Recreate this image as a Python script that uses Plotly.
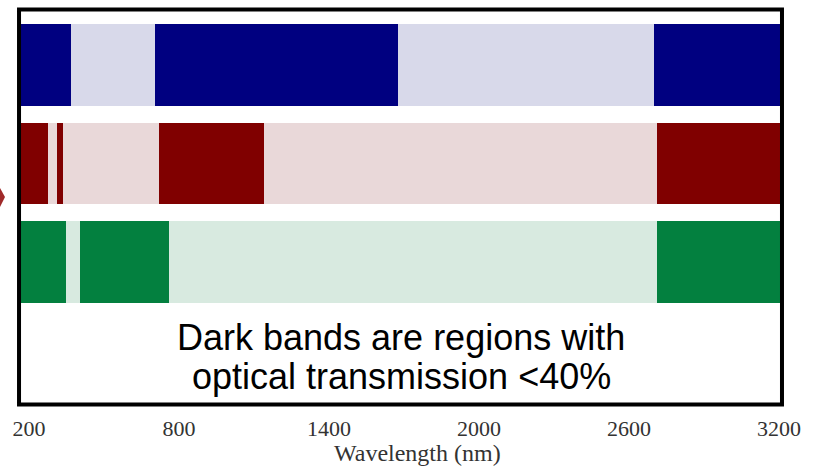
import plotly.graph_objects as go

# ---- data (wavelength, nm) ----
rows = ["Row 1", "Row 2", "Row 3"]
row1_edges = [168, 368, 704, 1676, 2700, 3208]
row2_edges = [168, 276, 312, 336, 720, 1140, 2712, 3208]
row3_edges = [168, 348, 404, 760, 2712, 3208]
dark_colors = ["#000080", "#800000", "#03803f"]
light_colors = ["#d8d9ea", "#e9d8d9", "#d8eae0"]
tick_values = [200, 800, 1400, 2000, 2600, 3200]
tick_labels = ["200", "800", "1400", "2000", "2600", "3200"]
note_lines = ["Dark bands are regions with", "optical transmission <40%"]
x_title = "Wavelength (nm)"

fig = go.Figure()
for name, edges, dk, lt in zip(rows, [row1_edges, row2_edges, row3_edges], dark_colors, light_colors):
    bases = edges[:-1]
    widths = [b - a for a, b in zip(edges[:-1], edges[1:])]
    colors = [dk if i % 2 == 0 else lt for i in range(len(widths))]
    fig.add_trace(go.Bar(
        y=[name] * len(widths), x=widths, base=bases, orientation="h",
        marker=dict(color=colors, line=dict(width=0)), width=0.832,
        showlegend=False, hoverinfo="skip",
    ))

fig.update_layout(
    width=824, height=469,
    margin=dict(l=21, r=43, t=11, b=66),
    paper_bgcolor="white", plot_bgcolor="white",
    barmode="overlay", bargap=0,
    xaxis=dict(range=[168, 3208], tickvals=tick_values, ticktext=tick_labels,
               showgrid=False, zeroline=False, showline=False, ticks="",
               automargin=False, ticklabelstandoff=10,
               tickfont=dict(family="Liberation Serif, Times New Roman, serif", size=22, color="#333333")),
    yaxis=dict(type="category", categoryorder="array", categoryarray=rows,
               range=[3.431, -0.548], showticklabels=False, showgrid=False,
               zeroline=False, showline=False, ticks="", automargin=False),
    font=dict(family="Liberation Sans, Arial, sans-serif"),
)

# frame around the chart
fig.add_shape(type="rect", xref="paper", yref="paper",
              x0=-0.0026, x1=1.0013, y0=-0.0038, y1=1.0038,
              line=dict(color="black", width=4), fillcolor="rgba(0,0,0,0)", layer="above")

# small arrow tip at the left edge
fig.add_shape(type="path", xref="paper", yref="paper", xsizemode="pixel", ysizemode="pixel",
              xanchor=0, yanchor=1, path="M -21,-177 L -16,-186 L -21,-196 Z",
              fillcolor="#a02a2a", line=dict(width=0))

for line, yv in zip(note_lines, [0.167, 0.067]):
    fig.add_annotation(text=line, xref="paper", yref="paper", x=0.5, y=yv,
                       showarrow=False, xanchor="center", yanchor="middle",
                       font=dict(family="Liberation Sans, Arial, sans-serif", size=36, color="black"))

fig.add_annotation(text=x_title, xref="paper", yref="paper", x=0.522, y=-0.128,
                   showarrow=False, xanchor="center", yanchor="middle",
                   font=dict(family="Liberation Serif, Times New Roman, serif", size=24, color="#333333"))

fig.write_html("out.html", config={"displayModeBar": False},
               post_script="document.body.style.margin='0px';document.body.style.overflow='hidden';")
